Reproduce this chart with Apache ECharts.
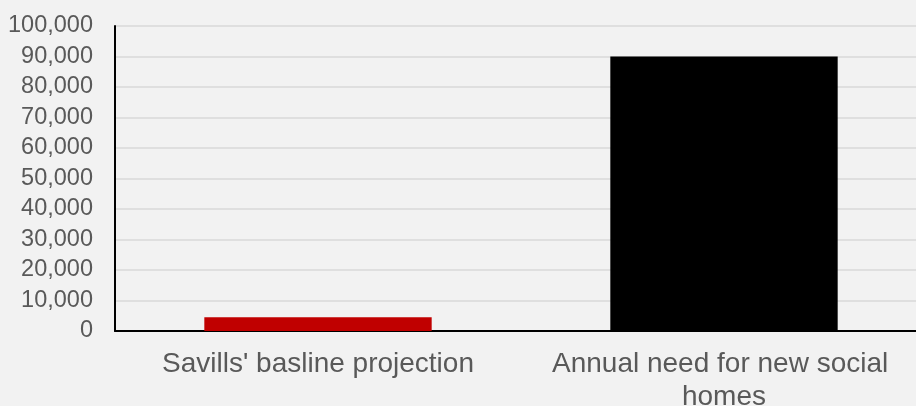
<!DOCTYPE html>
<html><head><meta charset="utf-8">
<script src="https://cdn.jsdelivr.net/npm/echarts@6/dist/echarts.min.js"></script>
<style>html,body{margin:0;padding:0;background:#f2f2f2;}#c{width:916px;height:406px;}</style>
</head><body><div id="c"></div>
<script>
const categories = ["Savills' basline projection", "Annual need for new social homes"];
const values = [4500, 90000];
const barColors = ['#c00000', '#000000'];

const chart = echarts.init(document.getElementById('c'));
chart.setOption({
  backgroundColor: '#f2f2f2',
  animation: false,
  grid: { left: 115, width: 812, top: 26, height: 305, containLabel: false, outerBoundsMode: 'none' },
  xAxis: {
    type: 'category',
    data: categories,
    axisLine: { lineStyle: { color: '#000', width: 2 } },
    axisTick: { show: false },
    axisLabel: {
      color: '#595959', fontSize: 28, fontFamily: 'Liberation Sans, Arial, sans-serif',
      margin: 17, lineHeight: 33, width: 370, overflow: 'break', interval: 0
    }
  },
  yAxis: {
    type: 'value', min: 0, max: 100000, interval: 10000,
    axisLine: { show: true, lineStyle: { color: '#000', width: 2 } },
    axisTick: { show: false },
    splitLine: { lineStyle: { color: '#d9d9d9', width: 1.5 } },
    axisLabel: {
      color: '#595959', fontSize: 23.5, fontFamily: 'Liberation Sans, Arial, sans-serif', margin: 22,
      formatter: v => v.toLocaleString('en-US')
    }
  },
  series: [{
    type: 'bar',
    data: values.map((v, i) => ({ value: v, itemStyle: { color: barColors[i] } })),
    barWidth: '56%'
  }]
});
</script></body></html>
